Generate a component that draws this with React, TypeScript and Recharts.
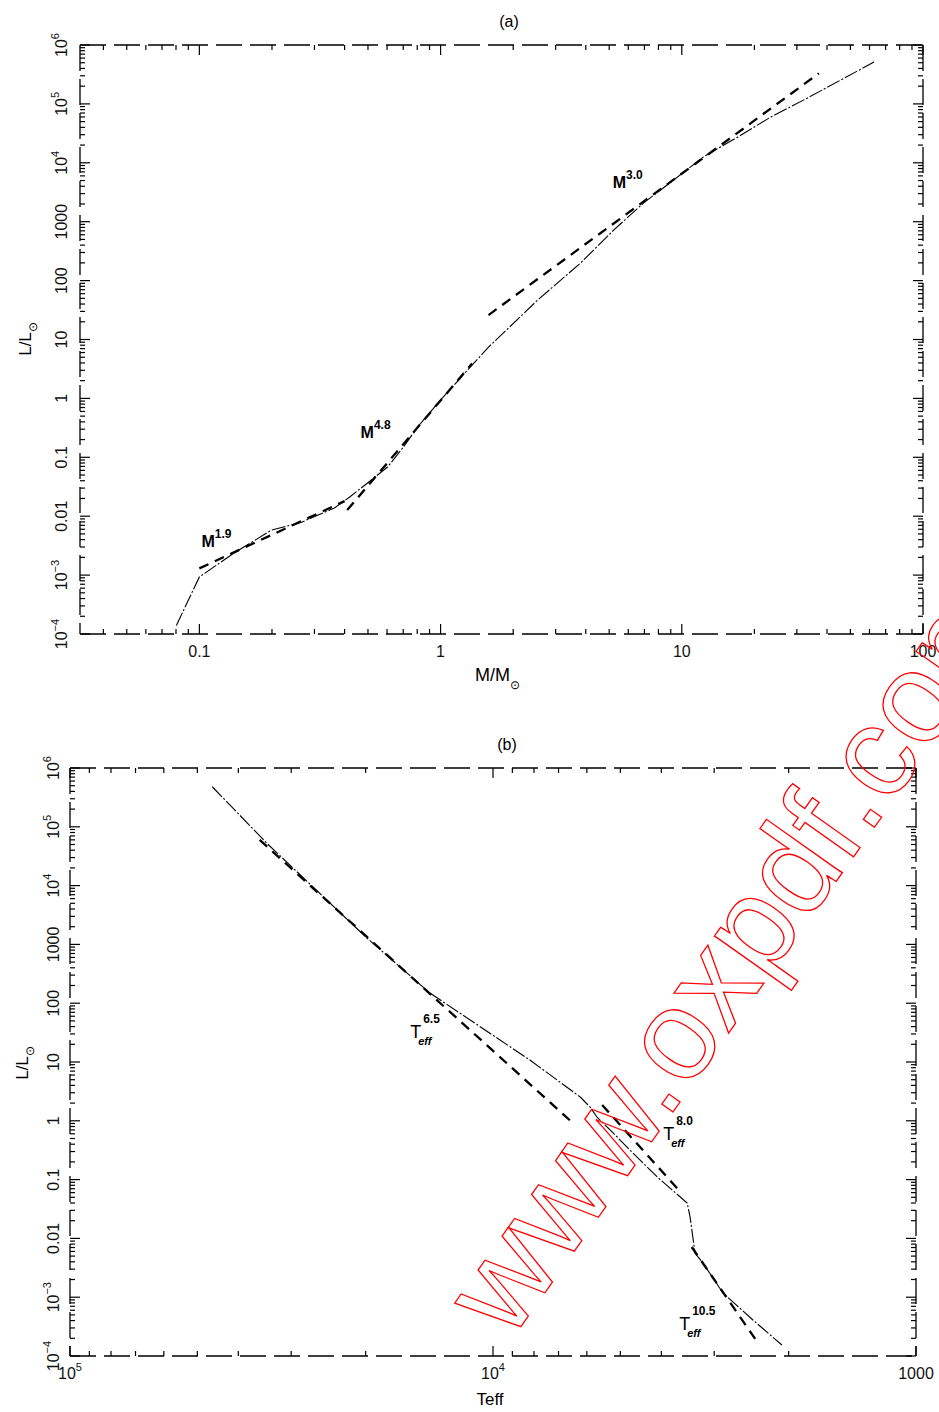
import React from "react";
import { LineChart, Line, XAxis, YAxis, ReferenceDot } from "recharts";

const FONT = '"Liberation Sans", Arial, Helvetica, sans-serif';

// (a) mass-luminosity: model track
const massModel = [0.0803, 0.1, 0.14, 0.199, 0.265, 0.363, 0.42, 0.498, 0.603, 0.702, 0.803, 1.0, 1.294, 1.58, 2.53, 3.81, 5.23, 6.95, 9.0, 12.3, 17.1, 23.4, 32.1, 62.6];
const lumModelA = [1.4e-4, 9.3e-4, 2.4e-3, 5.8e-3, 7.9e-3, 0.0138, 0.0212, 0.0366, 0.0684, 0.15, 0.327, 0.94, 3.03, 7.4, 47, 200, 725, 2090, 4680, 12600, 27500, 60000, 117000, 513000];

// (a) power-law fits, end points
const fit19Mass = [0.1, 0.4];
const fit19Lum = [1.3e-3, 0.018];
const fit48Mass = [0.41, 1.35];
const fit48Lum = [0.0127, 3.9];
const fit30Mass = [1.58, 37];
const fit30Lum = [26, 3.3e5];

// (a) slope labels
const annotMass = [0.102, 0.466, 5.17];
const annotLumA = [3.0e-3, 0.213, 3730];
const annotPowA = ["1.9", "4.8", "3.0"];

// (b) Teff-luminosity: model track
const teffModel = [46100, 34200, 19900, 14100, 10700, 8180, 6220, 5900, 5680, 5200, 4670, 4090, 3475, 3420, 3330, 3190, 2860, 2430, 2075];
const lumModelB = [4.8e5, 5.2e4, 1300, 149, 39.4, 10.8, 2.54, 1.72, 1.16, 0.621, 0.283, 0.111, 0.04, 0.023, 0.00565, 0.00382, 0.00118, 4.1e-4, 1.54e-4];

// (b) power-law fits, end points
const fit65Teff = [35600, 6580];
const fit65Lum = [59700, 1.02];
const fit80Teff = [5520, 3670];
const fit80Lum = [1.86, 0.0713];
const fit105Teff = [3390, 2400];
const fit105Lum = [0.00714, 1.95e-4];

// (b) slope labels
const annotTeff = [15700, 3960, 3630];
const annotLumB = [25.6, 0.471, 2.77e-4];
const annotPowB = ["6.5", "8.0", "10.5"];

// axis ticks
const massTicks = [0.1, 1, 10, 100];
const massLabels = ["0.1", "1", "10", "100"];
const lumTicks = [1e-4, 1e-3, 0.01, 0.1, 1, 10, 100, 1000, 1e4, 1e5, 1e6];
const lumLabels = ["10^−4", "10^−3", "0.01", "0.1", "1", "10", "100", "1000", "10^4", "10^5", "10^6"];
const teffTicks = [1e5, 1e4, 1e3];
const teffLabels = ["10^5", "10^4", "1000"];

const pairs = (xs: number[], ys: number[]) => xs.map((x, i) => ({ x, y: ys[i] }));

// log axis tick list: decades plus 2..9 minors inside the domain
const logTicks = (lo: number, hi: number) => {
  const out: number[] = [];
  for (let e = Math.floor(Math.log10(lo)); e <= Math.ceil(Math.log10(hi)); e++) {
    for (let k = 1; k <= 9; k++) {
      const v = k * Math.pow(10, e);
      if (v >= lo * 0.999 && v <= hi * 1.001) out.push(v);
    }
  }
  return out;
};

const axisLine = { stroke: "#000", strokeWidth: 1.3, strokeDasharray: "26 8" };

type Side = "bottom" | "top" | "left" | "right";

const TickText = ({ label, x, y, side, gap }: any) => {
  const [base, sup] = label.split("^");
  const body = (
    <>
      {base}
      {sup && (
        <tspan dy={-8} fontSize={11}>
          {sup}
        </tspan>
      )}
    </>
  );
  if (side === "bottom") {
    return (
      <text x={x} y={y + gap} textAnchor="middle" fontSize={16} fontFamily={FONT} fill="#111">
        {body}
      </text>
    );
  }
  const tx = x - gap;
  return (
    <text x={tx} y={y} textAnchor="middle" fontSize={16} fontFamily={FONT} fill="#111" transform={`rotate(-90 ${tx} ${y})`}>
      {body}
    </text>
  );
};

const makeTick = (side: Side, majors: number[], labels: string[] | null, gap: number) => (props: any) => {
  const { x, y, payload } = props;
  const v = payload.value;
  const idx = majors.findIndex((m) => Math.abs(v - m) <= m * 1e-6);
  const len = idx >= 0 ? 10 : 5;
  let x2 = x;
  let y2 = y;
  if (side === "bottom") y2 = y - len;
  else if (side === "top") y2 = y + len;
  else if (side === "left") x2 = x + len;
  else x2 = x - len;
  const label = labels && idx >= 0 ? labels[idx] : null;
  return (
    <g>
      <line x1={x} y1={y} x2={x2} y2={y2} stroke="#000" strokeWidth={1.2} />
      {label && <TickText label={label} x={x} y={y} side={side} gap={gap} />}
    </g>
  );
};

const MassLabel = ({ cx, cy, power }: any) => (
  <text x={cx} y={cy} fontSize={16} fontWeight="bold" fontFamily={FONT} fill="#000">
    M
    <tspan dy={-9} fontSize={12}>
      {power}
    </tspan>
  </text>
);

const TeffLabel = ({ cx, cy, power }: any) => (
  <g fontFamily={FONT} fill="#000">
    <text x={cx} y={cy} fontSize={18}>
      T
    </text>
    <text x={cx + 8} y={cy + 7} fontSize={11} fontWeight="bold" fontStyle="italic">
      eff
    </text>
    <text x={cx + 13} y={cy - 15} fontSize={12} fontWeight="bold">
      {power}
    </text>
  </g>
);

const modelStyle = { stroke: "#000", strokeWidth: 1.1, strokeDasharray: "14 2 2 2" };
const fitStyle = { stroke: "#000", strokeWidth: 2.3, strokeDasharray: "10 7" };

const PanelA = () => {
  const xTicks = logTicks(0.032, 100);
  const yTicks = logTicks(1e-4, 1e6);
  const xProps = {
    type: "number" as const,
    dataKey: "x",
    scale: "log" as const,
    domain: [0.032, 100],
    allowDataOverflow: true,
    ticks: xTicks,
    interval: 0 as const,
    tickSize: 0,
    tickMargin: 0,
    tickLine: false,
    axisLine,
  };
  const yProps = {
    type: "number" as const,
    scale: "log" as const,
    domain: [1e-4, 1e6],
    allowDataOverflow: true,
    ticks: yTicks,
    interval: 0 as const,
    tickSize: 0,
    tickMargin: 0,
    tickLine: false,
    axisLine,
  };
  return (
    <LineChart width={939} height={700} margin={{ top: 0, right: 0, bottom: 0, left: 0 }}>
      <XAxis xAxisId="b" {...xProps} height={66} tick={makeTick("bottom", massTicks, massLabels, 23)} />
      <XAxis xAxisId="t" orientation="top" {...xProps} height={45} tick={makeTick("top", massTicks, null, 0)} />
      <YAxis yAxisId="l" {...yProps} width={80} tick={makeTick("left", lumTicks, lumLabels, 13)} />
      <YAxis yAxisId="r" orientation="right" {...yProps} width={16} tick={makeTick("right", lumTicks, null, 0)} />
      <Line xAxisId="b" yAxisId="l" data={pairs(massModel, lumModelA)} dataKey="y" type="linear" dot={false} activeDot={false} isAnimationActive={false} {...modelStyle} />
      <Line xAxisId="b" yAxisId="l" data={pairs(fit19Mass, fit19Lum)} dataKey="y" type="linear" dot={false} activeDot={false} isAnimationActive={false} {...fitStyle} />
      <Line xAxisId="b" yAxisId="l" data={pairs(fit48Mass, fit48Lum)} dataKey="y" type="linear" dot={false} activeDot={false} isAnimationActive={false} {...fitStyle} />
      <Line xAxisId="b" yAxisId="l" data={pairs(fit30Mass, fit30Lum)} dataKey="y" type="linear" dot={false} activeDot={false} isAnimationActive={false} {...fitStyle} />
      {annotMass.map((m, i) => (
        <ReferenceDot
          key={annotPowA[i]}
          xAxisId="b"
          yAxisId="l"
          x={m}
          y={annotLumA[i]}
          r={0}
          shape={(p: any) => <MassLabel cx={p.cx} cy={p.cy} power={annotPowA[i]} />}
        />
      ))}
    </LineChart>
  );
};

const PanelB = () => {
  const xTicks = logTicks(1000, 1e5);
  const yTicks = logTicks(1e-4, 1e6);
  const xProps = {
    type: "number" as const,
    dataKey: "x",
    scale: "log" as const,
    domain: [1000, 1e5],
    reversed: true,
    allowDataOverflow: true,
    ticks: xTicks,
    interval: 0 as const,
    tickSize: 0,
    tickMargin: 0,
    tickLine: false,
    axisLine,
  };
  const yProps = {
    type: "number" as const,
    scale: "log" as const,
    domain: [1e-4, 1e6],
    allowDataOverflow: true,
    ticks: yTicks,
    interval: 0 as const,
    tickSize: 0,
    tickMargin: 0,
    tickLine: false,
    axisLine,
  };
  return (
    <LineChart width={939} height={712} margin={{ top: 0, right: 0, bottom: 0, left: 0 }}>
      <XAxis xAxisId="b" {...xProps} height={56} tick={makeTick("bottom", teffTicks, teffLabels, 23)} />
      <XAxis xAxisId="t" orientation="top" {...xProps} height={68} tick={makeTick("top", teffTicks, null, 0)} />
      <YAxis yAxisId="l" {...yProps} width={70} tick={makeTick("left", lumTicks, lumLabels, 11)} />
      <YAxis yAxisId="r" orientation="right" {...yProps} width={23} tick={makeTick("right", lumTicks, null, 0)} />
      <Line xAxisId="b" yAxisId="l" data={pairs(teffModel, lumModelB)} dataKey="y" type="linear" dot={false} activeDot={false} isAnimationActive={false} {...modelStyle} />
      <Line xAxisId="b" yAxisId="l" data={pairs(fit65Teff, fit65Lum)} dataKey="y" type="linear" dot={false} activeDot={false} isAnimationActive={false} {...fitStyle} />
      <Line xAxisId="b" yAxisId="l" data={pairs(fit80Teff, fit80Lum)} dataKey="y" type="linear" dot={false} activeDot={false} isAnimationActive={false} {...fitStyle} />
      <Line xAxisId="b" yAxisId="l" data={pairs(fit105Teff, fit105Lum)} dataKey="y" type="linear" dot={false} activeDot={false} isAnimationActive={false} {...fitStyle} />
      {annotTeff.map((t, i) => (
        <ReferenceDot
          key={annotPowB[i]}
          xAxisId="b"
          yAxisId="l"
          x={t}
          y={annotLumB[i]}
          r={0}
          shape={(p: any) => <TeffLabel cx={p.cx} cy={p.cy} power={annotPowB[i]} />}
        />
      ))}
    </LineChart>
  );
};

export default function App() {
  return (
    <div style={{ position: "relative", width: 939, height: 1412, background: "#fff", overflow: "hidden" }}>
      <style>{"body{margin:0;background:#fff}"}</style>
      <div style={{ position: "absolute", left: 0, top: 0 }}>
        <PanelA />
      </div>
      <div style={{ position: "absolute", left: 0, top: 700 }}>
        <PanelB />
      </div>
      <svg width={939} height={1412} style={{ position: "absolute", left: 0, top: 0, pointerEvents: "none" }} fontFamily={FONT}>
        <text x={509} y={27} textAnchor="middle" fontSize={16}>(a)</text>
        <text x={507} y={750} textAnchor="middle" fontSize={16}>(b)</text>
        <text x={475} y={681} fontSize={18}>
          M/M<tspan dy={8} fontSize={12}>⊙</tspan>
        </text>
        <text x={490} y={1405} textAnchor="middle" fontSize={17}>Teff</text>
        <text x={31} y={339} textAnchor="middle" fontSize={17} transform="rotate(-90 31 339)">
          L/L<tspan dy={6} fontSize={12}>⊙</tspan>
        </text>
        <text x={28} y={1063} textAnchor="middle" fontSize={17} transform="rotate(-90 28 1063)">
          L/L<tspan dy={6} fontSize={12}>⊙</tspan>
        </text>
        <text x={510} y={1342} fontSize={128} fill="none" stroke="#ff0000" strokeWidth={1.3} transform="rotate(-54.7 510 1342)">
          www.oxpdf.com
        </text>
      </svg>
    </div>
  );
}
